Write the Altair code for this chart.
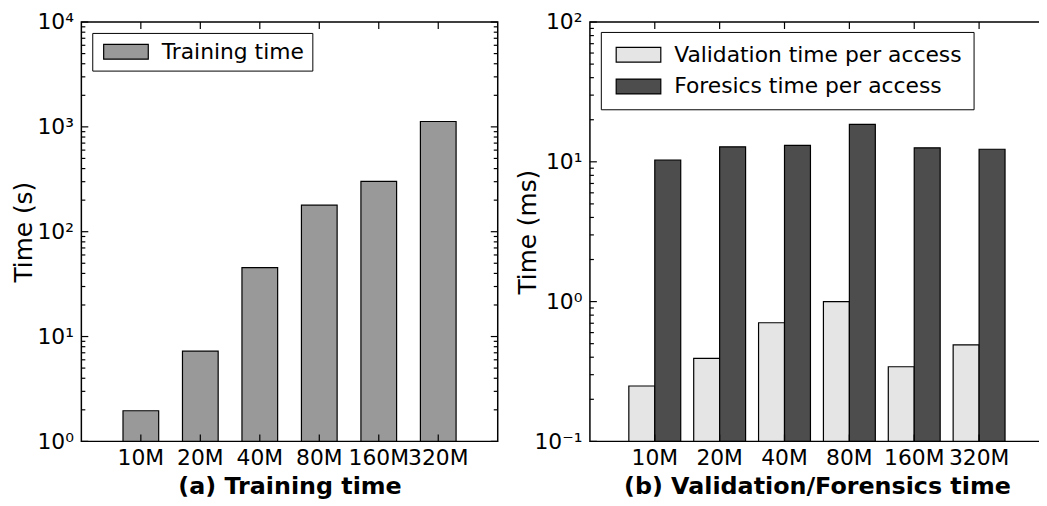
import altair as alt
import pandas as pd

# ---- data ----
sizes = ["10M", "20M", "40M", "80M", "160M", "320M"]
training = [1.96, 7.25, 45.5, 179, 302, 1125]
validation = [0.249, 0.392, 0.706, 1.0, 0.342, 0.490]
forensics = [10.3, 12.8, 13.1, 18.5, 12.6, 12.3]
series_a = ["Training time"]
series_b = ["Validation time per access", "Foresics time per access"]
colors_a = ["#999999"]
colors_b = ["#e5e5e5", "#4d4d4d"]
major_a = [1, 10, 100, 1000, 10000]
major_b = [0.1, 1, 10, 100]
decades_a = [1, 10, 100, 1000]
decades_b = [0.1, 1, 10]

FONT = "DejaVu Sans"
FS = 22      # tick labels and legend
FS_XT = 24   # bold panel captions
FS_YT = 25   # y axis titles
H = 423
W1 = 420
W2 = 458
TL = 7   # major tick length
TM = 4   # minor tick length
# patch drawn 45 x 15 px, but laid out by the legend as a 15 px symbol
RECT = "M-1,-1H5V1H-1Z"
SUPEXPR = "'10' + ['\u207b\u00b9','\u2070','\u00b9','\u00b2','\u00b3','\u2074'][round(log(datum.value)/LN10)+1]"


def legend(x, y, pad, off):
    return alt.Legend(
        orient="none", legendX=x, legendY=y, title=None,
        symbolType=RECT, symbolSize=225, symbolStrokeColor="black",
        symbolStrokeWidth=1.2, symbolOpacity=1,
        labelFontSize=FS, labelFont=FONT, labelColor="black", labelOffset=off,
        labelLimit=0,
        fillColor="white", strokeColor="black", padding=pad, rowPadding=10,
    )


def xaxis(title):
    return alt.Axis(title=title, ticks=False, domain=False, grid=False, labelAngle=0,
                    labelFontSize=FS, labelFont=FONT, labelColor="black", labelPadding=6,
                    titleFontSize=FS_XT, titleFont=FONT, titleFontWeight="bold",
                    titleColor="black", titlePadding=7)


def yaxis(title, values, tx):
    return alt.Axis(title=title, values=values, labelExpr=SUPEXPR, ticks=False,
                    domain=False, grid=False, labelFontSize=FS, labelFont=FONT,
                    labelColor="black", labelPadding=8, titleFontSize=FS_YT, titleFont=FONT,
                    titleFontWeight="normal", titleColor="black", titleX=tx)


def tick_layers(yscale, yax, major, minor, width, xscale, xax, right_side):
    maj = pd.DataFrame({"t": major})
    mnr = pd.DataFrame({"t": minor})
    xt = pd.DataFrame({"size": sizes})
    spans = [(0, TL, maj), (0, TM, mnr)]
    if right_side:
        spans += [(width - TL, width, maj), (width - TM, width, mnr)]
    layers = []
    for x0, x1, d in spans:
        layers.append(
            alt.Chart(d).mark_rule(color="black", strokeWidth=1.2).encode(
                y=alt.Y("t:Q", scale=yscale, axis=yax),
                x=alt.value(x0), x2=alt.value(x1)))
    for y0, y1 in [(H - TL, H), (0, TL)]:
        layers.append(
            alt.Chart(xt).mark_rule(color="black", strokeWidth=1.2).encode(
                x=alt.X("size:N", sort=sizes, scale=xscale, axis=xax),
                y=alt.value(y0), y2=alt.value(y1)))
    return layers


# ---- panel (a) ----
df_a = pd.DataFrame({"size": sizes, "t": training, "series": series_a[0]})
ys_a = alt.Scale(type="log", domain=[1, 10000], nice=False)
xs_a = alt.Scale(paddingInner=0.4, paddingOuter=0.7)
xa_a = xaxis("(a) Training time")
ya_a = yaxis("Time (s)", major_a, -45)
bars_a = alt.Chart(df_a).mark_bar(stroke="black", strokeWidth=1.2).encode(
    x=alt.X("size:N", sort=sizes, scale=xs_a, axis=xa_a),
    y=alt.Y("t:Q", scale=ys_a, axis=ya_a),
    y2=alt.datum(1),
    color=alt.Color("series:N", scale=alt.Scale(domain=series_a, range=colors_a),
                    legend=legend(11, 11, 8, 40)),
)
minor_a = [m * d for d in decades_a for m in range(2, 10)]
panel_a = alt.layer(bars_a, *tick_layers(ys_a, ya_a, major_a, minor_a, W1, xs_a, xa_a, True)).properties(
    width=W1, height=H)

# ---- panel (b) ----
rows = []
for s, v, f in zip(sizes, validation, forensics):
    rows.append({"size": s, "t": v, "series": series_b[0]})
    rows.append({"size": s, "t": f, "series": series_b[1]})
df_b = pd.DataFrame(rows)
ys_b = alt.Scale(type="log", domain=[0.1, 100], nice=False)
xs_b = alt.Scale(paddingInner=0.2, paddingOuter=0.6)
xa_b = xaxis("(b) Validation/Forensics time")
ya_b = yaxis("Time (ms)", major_b, -50)
bars_b = alt.Chart(df_b).mark_bar(stroke="black", strokeWidth=1.2).encode(
    x=alt.X("size:N", sort=sizes, scale=xs_b, axis=xa_b),
    xOffset=alt.XOffset("series:N", sort=series_b,
                        scale=alt.Scale(domain=series_b, paddingInner=0, paddingOuter=0)),
    y=alt.Y("t:Q", scale=ys_b, axis=ya_b),
    y2=alt.datum(0.1),
    color=alt.Color("series:N", scale=alt.Scale(domain=series_b, range=colors_b),
                    legend=legend(11, 10, 12, 40)),
)
minor_b = [m * d for d in decades_b for m in range(2, 10)]
panel_b = alt.layer(bars_b, *tick_layers(ys_b, ya_b, major_b, minor_b, W2, xs_b, xa_b, False)).properties(
    width=W2, height=H)

chart = alt.hconcat(panel_a, panel_b, spacing=15).resolve_scale(
    color="independent").resolve_legend(color="independent").properties(
    padding={"left": 3, "top": 0, "right": -6, "bottom": 0}
).configure(font=FONT).configure_view(stroke="black", strokeWidth=1.5)

chart.save("out.html", embed_options={"renderer": "svg", "actions": False})
